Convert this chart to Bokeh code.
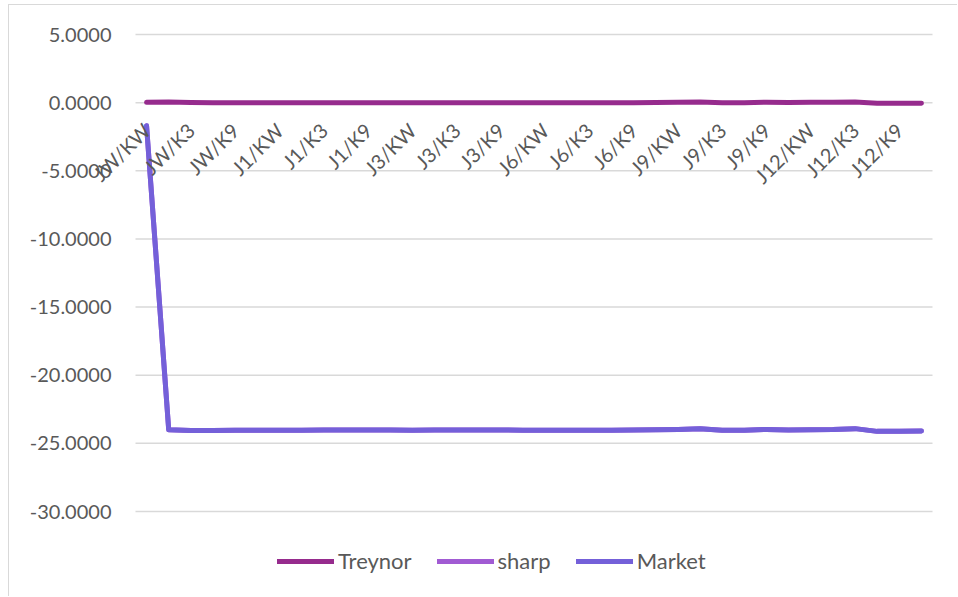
import math
from bokeh.plotting import figure
from bokeh.models import Range1d, Legend, LegendItem, FixedTicker, NumeralTickFormatter
from bokeh.embed import file_html
from bokeh.resources import INLINE

# Formation period (J) / holding period (K) combinations
j_periods = ["JW", "J1", "J3", "J6", "J9", "J12"]
k_periods = ["KW", "K1", "K3", "K6", "K9", "K12"]
categories = [f"{j}/{k}" for j in j_periods for k in k_periods]

treynor = [0.02, 0.04, 0.01, 0.00, 0.00, 0.00,
           0.00, 0.00, 0.00, 0.00, 0.00, 0.00,
           0.00, 0.00, 0.00, 0.00, 0.00, 0.00,
           0.00, 0.00, 0.00, 0.00, 0.00, 0.01,
           0.03, 0.04, -0.01, 0.00, 0.03, 0.01,
           0.02, 0.03, 0.05, -0.05, -0.05, -0.04]

sharp = [-1.70, -24.00, -24.05, -24.05, -24.04, -24.03,
         -24.04, -24.03, -24.02, -24.02, -24.02, -24.02,
         -24.03, -24.02, -24.02, -24.02, -24.02, -24.03,
         -24.03, -24.03, -24.03, -24.03, -24.02, -24.01,
         -23.98, -23.93, -24.04, -24.04, -23.98, -24.02,
         -24.00, -23.99, -23.92, -24.12, -24.12, -24.10]

market = [-1.70, -24.00, -24.05, -24.05, -24.04, -24.03,
          -24.04, -24.03, -24.02, -24.02, -24.02, -24.02,
          -24.03, -24.02, -24.02, -24.02, -24.02, -24.03,
          -24.03, -24.03, -24.03, -24.03, -24.02, -24.01,
          -23.98, -23.93, -24.04, -24.04, -23.98, -24.02,
          -24.00, -23.99, -23.92, -24.12, -24.12, -24.10]

y_ticks = [5, 0, -5, -10, -15, -20, -25, -30]

series_names = ["Treynor", "sharp", "Market"]
series_colors = ["#962B8D", "#A15BD3", "#7460D9"]

FONT = "Lato"
TEXT_COLOR = "#595959"
GRID_COLOR = "#d9d9d9"

# category positions along the x axis
xs = list(range(len(categories)))
n = len(categories)

# The frame spans the whole canvas; the plot area (-0.5..n-0.5, -30..5)
# sits inside it, leaving room for tick labels and the legend.
PX_PER_CAT = 797 / n
PX_PER_UNIT = 477 / 35
x_lo = -0.5 - 126 / PX_PER_CAT
x_hi = n - 0.5 + 26 / PX_PER_CAT
y_hi = 5 + 29 / PX_PER_UNIT
y_lo = -30 - 86 / PX_PER_UNIT

p = figure(width=949, height=592,
           x_range=Range1d(x_lo, x_hi),
           y_range=Range1d(y_lo, y_hi),
           output_backend="svg", toolbar_location=None,
           min_border_left=0, min_border_right=0,
           min_border_top=0, min_border_bottom=0)
p.outline_line_color = None
p.background_fill_color = "white"
p.border_fill_color = "white"
p.styles = {"border-top": "1px solid #d9d9d9", "border-left": "1px solid #d9d9d9",
            "margin-left": "8px", "margin-top": "4px"}
p.xgrid.grid_line_color = None
p.ygrid.grid_line_color = None

# Horizontal gridlines across the plot area only
p.segment(x0=[-0.5] * len(y_ticks), x1=[n - 0.5] * len(y_ticks),
          y0=y_ticks, y1=y_ticks, line_color=GRID_COLOR, line_width=1.5)

renderers = []
for name, vals, col in zip(series_names, [treynor, sharp, market], series_colors):
    r = p.line(xs, vals, line_color=col, line_width=5,
               line_cap="round", line_join="round")
    renderers.append(r)

# Value axis
p.yaxis.ticker = FixedTicker(ticks=y_ticks)
p.yaxis.formatter = NumeralTickFormatter(format="0.0000")
p.yaxis.fixed_location = -0.5
p.yaxis.axis_line_color = None
p.yaxis.major_tick_line_color = None
p.yaxis.minor_tick_line_color = None
p.yaxis.major_tick_out = 0
p.yaxis.major_tick_in = 0
p.yaxis.major_label_standoff = 24
p.yaxis.major_label_text_font = FONT
p.yaxis.major_label_text_font_size = "20px"
p.yaxis.major_label_text_color = TEXT_COLOR

# Category axis crossing at zero, every other category labelled
p.xaxis.ticker = FixedTicker(ticks=xs[::2])
p.xaxis.major_label_overrides = {i: categories[i] for i in xs[::2]}
p.xaxis.fixed_location = 0
p.xaxis.axis_line_color = None
p.xaxis.major_tick_line_color = None
p.xaxis.minor_tick_line_color = None
p.xaxis.major_tick_out = 0
p.xaxis.major_tick_in = 0
p.xaxis.major_label_orientation = math.pi / 4
p.xaxis.major_label_standoff = 24
p.xaxis.major_label_text_font = FONT
p.xaxis.major_label_text_font_size = "20px"
p.xaxis.major_label_text_color = TEXT_COLOR

legend = Legend(items=[LegendItem(label=s, renderers=[r]) for s, r in zip(series_names, renderers)],
                orientation="horizontal", location=(268, 23),
                glyph_width=57, glyph_height=22, label_standoff=4, spacing=25,
                padding=0, margin=0, border_line_color=None, background_fill_alpha=0,
                label_text_font=FONT, label_text_font_size="22px",
                label_text_color=TEXT_COLOR, label_height=22)
p.add_layout(legend, "center")

open("out.html", "w").write(file_html(p, INLINE))
